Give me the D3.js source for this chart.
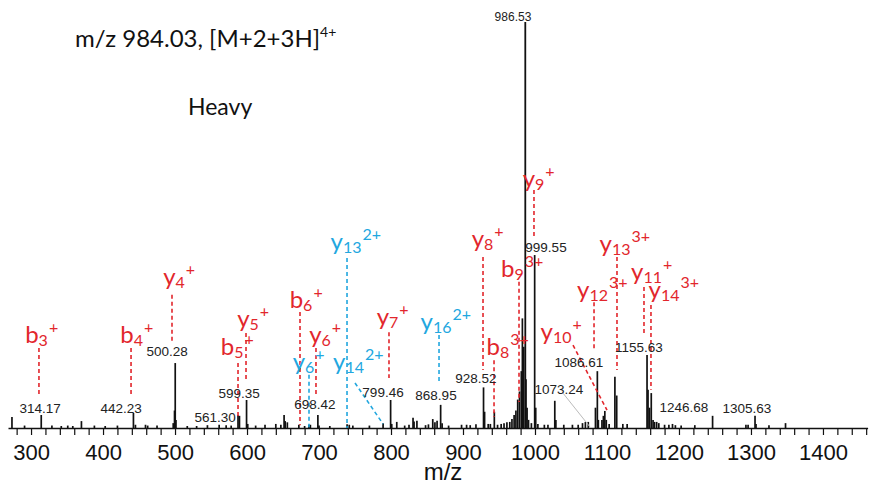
<!DOCTYPE html>
<html>
<head>
<meta charset="utf-8">
<script src="https://cdn.jsdelivr.net/npm/d3@7"></script>
<style>
  body { margin: 0; background: #fff; }
  svg { display: block; }
</style>
</head>
<body>
<svg id="chart" width="870" height="484"></svg>
<script>
// spectrum peaks (m/z, relative intensity %)
const peakMz = [273.5, 291, 314.17, 329, 342, 351, 358, 370, 388, 403, 420, 442.23, 445, 459, 462, 475,
  497.5, 499.3, 500.28, 501.3, 517, 530, 545, 561.30, 571, 578, 587.5, 589.5, 599.35, 601, 612, 625,
  640, 647, 651.5, 653, 656, 672, 680, 686, 688, 698.42, 700, 715, 739, 742, 747, 770, 789, 799.46,
  801, 808, 819, 825, 830.6, 832, 836, 848, 852, 858, 861, 864, 868.95, 871, 880, 898, 905, 910, 918,
  928.52, 930, 935, 938, 943.5, 948, 953, 957, 961, 965, 968, 971, 973.5, 976, 978.5, 981, 982.5,
  984.3, 986.53, 987.5, 989, 991, 995, 999.55, 1001, 1004, 1013, 1018, 1027.5, 1029, 1040, 1052,
  1060, 1066, 1070, 1074, 1084, 1086.61, 1088, 1093, 1095, 1097, 1099, 1103, 1111, 1113.5, 1122,
  1128, 1155.63, 1157, 1159, 1161.5, 1164, 1166, 1169, 1172, 1180, 1186, 1191, 1195, 1203, 1222,
  1246.68, 1293, 1296, 1305.63, 1307, 1325, 1348];
const peakInt = [2.7, 0.6, 3.2, 0.6, 0.5, 0.6, 0.5, 1.7, 0.6, 0.5, 0.6, 3.7, 0.8, 0.8, 0.6, 0.6,
  1.2, 4.3, 16, 2.0, 0.5, 0.5, 0.7, 0.8, 0.7, 0.6, 3.2, 3.0, 6.9, 1.0, 0.6, 0.8,
  1.0, 0.8, 3.2, 1.7, 1.4, 0.8, 0.5, 0.8, 0.8, 3.2, 0.6, 0.5, 0.9, 0.8, 0.6, 0.6, 1.2, 6.9,
  1.0, 1.5, 0.6, 0.8, 2.5, 1.6, 1.8, 0.7, 0.9, 2.2, 1.4, 1.8, 5.7, 1.2, 0.6, 0.8, 0.8, 0.7, 0.9,
  10, 4, 1.0, 1.0, 4.0, 0.8, 1.0, 1.2, 1.4, 1.5, 2.2, 3.2, 4.3, 7.0, 9, 14, 27,
  20, 100, 12, 5, 2, 1.2, 42.6, 5, 1.0, 0.8, 0.8, 6.7, 2, 0.8, 0.8,
  0.8, 1.2, 1.5, 1.5, 5, 14, 2, 2, 3, 4.2, 2, 1.0, 12.6, 8, 1.0,
  1.0, 18, 9.4, 5, 8.6, 2, 1.5, 1.5, 1.2, 0.8, 0.8, 1.0, 0.7, 0.6, 0.7,
  3, 0.8, 0.8, 3, 1.0, 0.7, 1.2];

const tickValues = d3.range(280, 1461, 20);
const tickLabels = [300, 400, 500, 600, 700, 800, 900, 1000, 1100, 1200, 1300, 1400];

// black m/z labels on peaks
const peakLabelText = ["314.17", "442.23", "500.28", "561.30", "599.35", "698.42", "799.46", "868.95",
  "928.52", "986.53", "999.55", "1073.24", "1086.61", "1155.63", "1246.68", "1305.63"];
const peakLabelMz = [312.5, 425, 488.9, 555.6, 588.9, 694.4, 788.9, 862.5,
  918, 969.4, 1015.3, 1033.3, 1061.1, 1144.4, 1206.9, 1294.4];
const peakLabelInt = [3.7, 3.7, 17.7, 1.5, 7.4, 4.7, 7.6, 6.9,
  11.1, 100.2, 43.3, 8.4, 15.0, 18.7, 3.9, 3.7];
// leader for 1073.24: [mz1, int1, mz2, int2]
const leader1073 = [1037.5, 8.9, 1076.4, 0.25];

// fragment ion annotations
const ionName = ["b", "b", "y", "b", "y", "b", "y", "y", "y", "y", "y", "y", "y", "b", "y", "b", "y", "y", "y", "y", "y"];
const ionSub = ["3", "4", "4", "5", "5", "6", "6", "6", "14", "13", "7", "16", "8", "9", "9", "8", "10", "12", "13", "11", "14"];
const ionSup = ["+", "+", "+", "+", "+", "+", "+", "+", "2+", "2+", "+", "2+", "+", "3+", "+", "3+", "+", "3+", "3+", "+", "3+"];
const ionSeries = ["r", "r", "r", "r", "r", "r", "r", "c", "c", "c", "r", "c", "r", "r", "r", "r", "r", "r", "r", "r", "r"];
const ionTextMz = [307.6, 439.6, 498.6, 579.2, 601.4, 675, 701.4, 678.5, 741, 737.5, 795.1, 862.5,
  927.1, 968.7, 997.9, 948.6, 1029.2, 1079.9, 1111.1, 1154.9, 1179.2];
const ionTextInt = [20.9, 20.9, 35.2, 18.0, 24.9, 29.6, 20.9, 14.3, 14.3, 43.8, 25.4, 24.1,
  44.6, 37.2, 59.4, 18.0, 21.7, 32.0, 43.3, 36.5, 32.0];
// dashed connector: [mz1, int1, mz2, int2]
const ionLine = [
  [311, 19.7, 311, 8.1], [438.9, 19.7, 438.9, 8.1], [495.8, 32.8, 495.8, 20.9],
  [587.5, 16.0, 587.5, 2.7], [598.6, 23.4, 598.6, 11.8], [673.6, 28.6, 673.6, 0.7],
  [695.8, 19.7, 695.8, 8.1], [686.1, 13.1, 686.1, 0.2], [750, 11.1, 788.9, 1.0],
  [738.9, 41.9, 738.9, 0], [797.2, 23.6, 797.2, 12.3], [866.7, 22.9, 866.7, 11.1],
  [927.8, 42.1, 927.8, 14.3], [977.8, 36.0, 977.8, 6.4], [998.6, 58.6, 998.6, 47.0],
  [943.1, 16.7, 943.1, 2.7], [1052.8, 20.4, 1100, 4.4], [1082, 31.0, 1082, 19.2],
  [1113.9, 42.1, 1113.9, 14.3], [1151.4, 34.7, 1151.4, 23.4], [1161.1, 30.3, 1161.1, 9.4]];

const colors = { r: "#e2262c", c: "#22a7df" };
const ionFont = "Lato, 'Open Sans', sans-serif";
const numFont = "'Liberation Sans', Arial, sans-serif";

const svg = d3.select("#chart");
const x = d3.scaleLinear().domain([268, 1462]).range([8, 867.6]);
const y = d3.scaleLinear().domain([0, 100]).range([428, 22]);

// peaks
svg.append("g")
  .selectAll("line")
  .data(peakMz)
  .join("line")
  .attr("x1", d => x(d)).attr("x2", d => x(d))
  .attr("y1", y(0))
  .attr("y2", (d, i) => y(peakInt[i]))
  .attr("stroke", "#111")
  .attr("stroke-width", (d, i) => peakInt[i] > 50 ? 1.8 : 1.7);

// axis
const xAxis = d3.axisBottom(x)
  .tickValues(tickValues)
  .tickSize(7)
  .tickSizeOuter(0)
  .tickPadding(9)
  .tickFormat(d => tickLabels.includes(d) ? d : "");
const gx = svg.append("g")
  .attr("transform", `translate(0,${y(0)})`)
  .call(xAxis);
gx.select(".domain").attr("stroke", "#111").attr("stroke-width", 1.6);
gx.selectAll(".tick line").attr("stroke", "#111").attr("stroke-width", 1.2);
gx.selectAll(".tick text")
  .attr("font-family", numFont)
  .attr("font-size", 22)
  .attr("fill", "#111");

svg.append("text")
  .attr("x", 443).attr("y", 480)
  .attr("text-anchor", "middle")
  .attr("font-family", numFont)
  .attr("font-size", 24)
  .attr("fill", "#111")
  .text("m/z");

// ion connectors
svg.append("g")
  .selectAll("line")
  .data(ionLine)
  .join("line")
  .attr("x1", d => x(d[0])).attr("y1", d => y(d[1]))
  .attr("x2", d => x(d[2])).attr("y2", d => y(d[3]))
  .attr("stroke", (d, i) => colors[ionSeries[i]])
  .attr("stroke-width", 1.6)
  .attr("stroke-dasharray", "4,3");

// ion labels
const ionG = svg.append("g").attr("font-family", ionFont);
ionName.forEach((n, i) => {
  const t = ionG.append("text")
    .attr("y", y(ionTextInt[i]))
    .attr("fill", colors[ionSeries[i]]);
  const a = t.append("tspan").attr("font-size", 24).text(n);
  const b = t.append("tspan").attr("font-size", 16).attr("dy", 3).text(ionSub[i]);
  t.append("tspan").attr("font-size", 16).attr("dx", 1).attr("dy", -13).text(ionSup[i]);
  const w = a.node().getComputedTextLength() + b.node().getComputedTextLength();
  t.attr("x", x(ionTextMz[i]) - w / 2);
});

// leader line for 1073.24
svg.append("line")
  .attr("x1", x(leader1073[0])).attr("y1", y(leader1073[1]))
  .attr("x2", x(leader1073[2])).attr("y2", y(leader1073[3]))
  .attr("stroke", "#bbb").attr("stroke-width", 1);

// peak m/z labels
svg.append("g")
  .selectAll("text")
  .data(peakLabelText)
  .join("text")
  .attr("x", (d, i) => x(peakLabelMz[i]))
  .attr("y", (d, i) => y(peakLabelInt[i]))
  .attr("text-anchor", "middle")
  .attr("font-family", numFont)
  .attr("font-size", (d, i) => peakLabelInt[i] > 90 ? 12 : 13.5)
  .attr("fill", "#222")
  .text(d => d);

// title
const title = svg.append("text")
  .attr("x", 75).attr("y", 47)
  .attr("font-family", ionFont)
  .attr("font-size", 24)
  .attr("fill", "#111");
title.append("tspan").text("m/z 984.03, [M+2+3H]");
title.append("tspan").attr("font-size", 14).attr("dy", -10).text("4+");

svg.append("text")
  .attr("x", 188).attr("y", 115)
  .attr("font-family", ionFont)
  .attr("font-size", 23)
  .attr("fill", "#111")
  .text("Heavy");
</script>
</body>
</html>
